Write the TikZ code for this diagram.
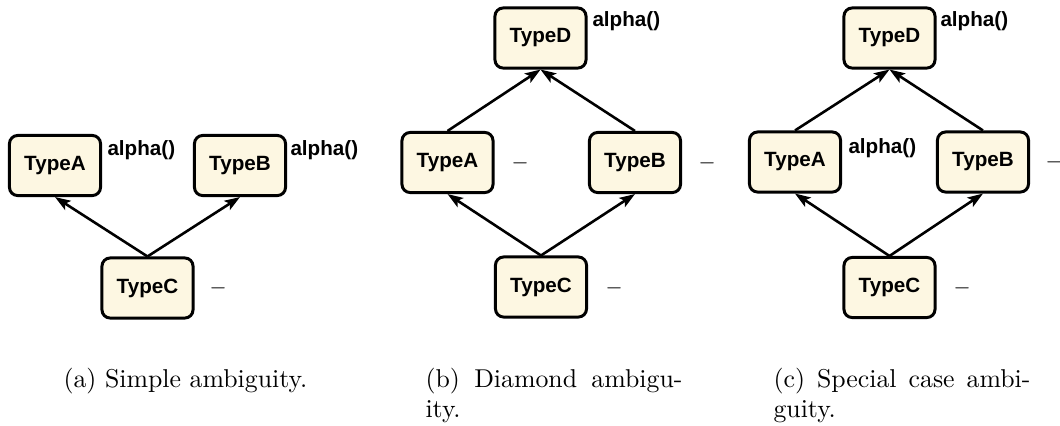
\documentclass[tikz,border=0pt]{standalone}
\usepackage{fontspec}
\setsansfont{Liberation Sans}
\usetikzlibrary{arrows.meta}
\definecolor{boxfill}{RGB}{253,247,226}
\tikzset{
  typebox/.style={draw=black, line width=1.15pt, fill=boxfill, rounded corners=3.2pt,
    minimum width=35.3pt, minimum height=23.3pt, inner sep=0pt,
    font=\sffamily\bfseries\fontsize{8}{9.6}\selectfont},
  inh/.style={line width=1pt, -{Stealth[length=6pt,width=4.2pt,inset=1.3pt]}},
  meth/.style={font=\sffamily\bfseries\fontsize{8}{9.6}\selectfont, inner sep=0pt, anchor=base west},
  nometh/.style={inner sep=0pt, anchor=west, font=\fontsize{8}{9.6}\selectfont},
  capone/.style={inner sep=0pt, anchor=base west, font=\fontsize{10}{12}\selectfont},
  cappar/.style={inner sep=0pt, anchor=base west, font=\fontsize{10}{12}\selectfont,
    text width=99.6pt, align=justify},
}
\begin{document}
\begin{tikzpicture}[x=0.3876pt, y=-0.3876pt]
\useasboundingbox (0,0) rectangle (1060,425);
% ---------- (a) ----------
\node[typebox] (aA) at (55,165.5) {TypeA};
\node[typebox] (aB) at (240,165.5) {TypeB};
\node[typebox] (aC) at (147.5,288) {TypeC};
\draw[inh] (aC.north) -- (aA.south);
\draw[inh] (aC.north) -- (aB.south);
\node[meth] (aAm) at (107,155) {alpha()};
\node[meth] (aBm) at (290,155) {alpha()};
\node[nometh] (aCm) at (209,288) {$-$};
\node[capone] (acap) at (63,387) {(a) Simple ambiguity.};
% ---------- (b) ----------
\node[typebox] (bD) at (540.5,38) {TypeD};
\node[typebox] (bA) at (447.5,162.5) {TypeA};
\node[typebox] (bB) at (635,162.5) {TypeB};
\node[typebox] (bC) at (541,287) {TypeC};
\draw[inh] (bA.north) -- (bD.south);
\draw[inh] (bB.north) -- (bD.south);
\draw[inh] (bC.north) -- (bA.south);
\draw[inh] (bC.north) -- (bB.south);
\node[meth] (bDm) at (592,26) {alpha()};
\node[nometh] (bAm) at (511,163) {$-$};
\node[nometh] (bBm) at (698,163) {$-$};
\node[nometh] (bCm) at (605,288) {$-$};
\node[cappar] (bcap) at (425,387) {(b) Diamond ambigu-\linebreak ity.};
% ---------- (c) ----------
\node[typebox] (cD) at (889.5,38) {TypeD};
\node[typebox] (cA) at (795,162) {TypeA};
\node[typebox] (cB) at (983,162) {TypeB};
\node[typebox] (cC) at (889.5,287.5) {TypeC};
\draw[inh] (cA.north) -- (cD.south);
\draw[inh] (cB.north) -- (cD.south);
\draw[inh] (cC.north) -- (cA.south);
\draw[inh] (cC.north) -- (cB.south);
\node[meth] (cDm) at (940,26) {alpha()};
\node[meth] (cAm) at (848,153) {alpha()};
\node[nometh] (cBm) at (1045,162) {$-$};
\node[nometh] (cCm) at (953,288) {$-$};
\node[cappar] (ccap) at (773,387) {(c) Special case ambi-\linebreak guity.};
\end{tikzpicture}
\end{document}
